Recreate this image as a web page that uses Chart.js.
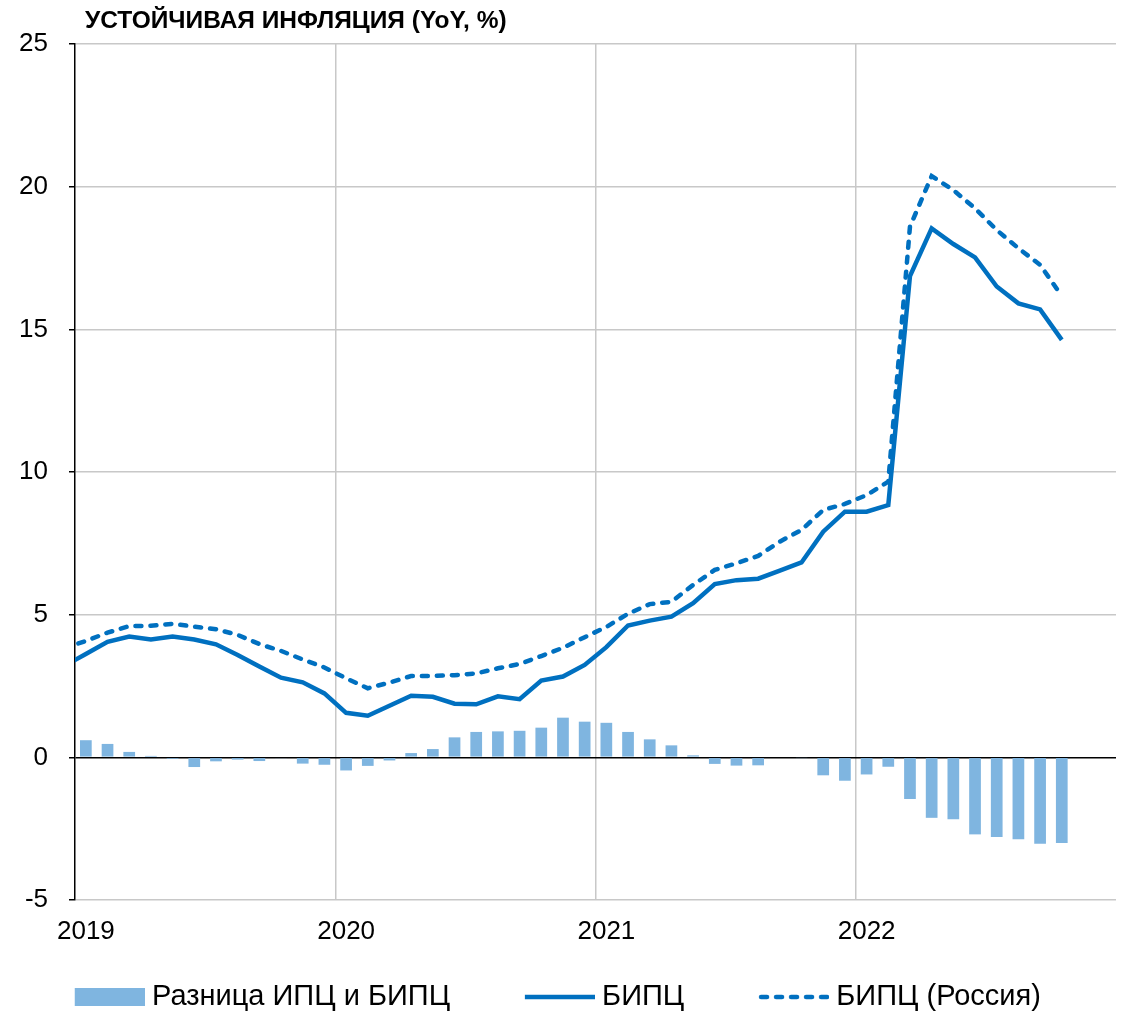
<!DOCTYPE html>
<html>
<head>
<meta charset="utf-8">
<title>Устойчивая инфляция</title>
<script src="https://cdn.jsdelivr.net/npm/chart.js@4.4.0/dist/chart.umd.min.js"></script>
<style>
  html, body { margin: 0; padding: 0; background: #fff; }
  #wrap { width: 1132px; height: 1012px; position: relative; }
</style>
</head>
<body>
<div id="wrap"><canvas id="inflationChart"></canvas></div>
<script>
// monthly points, Dec 2018 .. Oct 2022 (first point only sits left of the axis)
const months = [
  '2018-12',
  '2019-01','2019-02','2019-03','2019-04','2019-05','2019-06','2019-07','2019-08','2019-09','2019-10','2019-11','2019-12',
  '2020-01','2020-02','2020-03','2020-04','2020-05','2020-06','2020-07','2020-08','2020-09','2020-10','2020-11','2020-12',
  '2021-01','2021-02','2021-03','2021-04','2021-05','2021-06','2021-07','2021-08','2021-09','2021-10','2021-11','2021-12',
  '2022-01','2022-02','2022-03','2022-04','2022-05','2022-06','2022-07','2022-08','2022-09','2022-10'
];

const bipc = [
  3.20,
  3.62, 4.05, 4.23, 4.13, 4.23, 4.13, 3.96, 3.59, 3.18, 2.79, 2.63, 2.24,
  1.56, 1.46, 1.81, 2.16, 2.12, 1.88, 1.86, 2.14, 2.04, 2.69, 2.83, 3.24,
  3.86, 4.62, 4.79, 4.93, 5.40, 6.07, 6.21, 6.26, 6.54, 6.83, 7.91, 8.61,
  8.61, 8.84, 16.87, 18.54, 17.99, 17.52, 16.50, 15.91, 15.70, 14.63
];

const bipcRussia = [
  3.82,
  4.08, 4.37, 4.60, 4.61, 4.68, 4.58, 4.49, 4.29, 3.97, 3.73, 3.43, 3.15,
  2.77, 2.42, 2.62, 2.85, 2.85, 2.88, 2.94, 3.12, 3.27, 3.55, 3.84, 4.21,
  4.57, 5.03, 5.37, 5.45, 6.04, 6.57, 6.80, 7.06, 7.56, 7.97, 8.67, 8.88,
  9.19, 9.66, 18.60, 20.37, 19.88, 19.24, 18.48, 17.84, 17.26, 16.17
];

const cpiDiff = [
  null,
  0.60, 0.47, 0.19, 0.05, -0.05, -0.34, -0.14, -0.08, -0.13, -0.03, -0.22, -0.26,
  -0.46, -0.30, -0.11, 0.15, 0.29, 0.70, 0.89, 0.91, 0.93, 1.04, 1.39, 1.25,
  1.21, 0.89, 0.63, 0.42, 0.07, -0.23, -0.29, -0.28, 0.00, -0.02, -0.63, -0.82,
  -0.60, -0.33, -1.46, -2.12, -2.17, -2.70, -2.79, -2.87, -3.03, -3.00
];

const yearLabels = ['2019', '2020', '2021', '2022'];
const chartTitle = 'УСТОЙЧИВАЯ ИНФЛЯЦИЯ (YoY, %)';
const seriesNames = ['Разница ИПЦ и БИПЦ', 'БИПЦ', 'БИПЦ (Россия)'];

const barColor = '#7fb5e0';
const lineColor = '#0070c0';
const gridColor = '#c8c8c8';
const fontFamily = '"Liberation Sans", Arial, sans-serif';

// month index -> x value, centred inside its month (Jan 2019 = 0.5)
const toPoints = (arr) => arr.map((v, i) => ({ x: i - 0.5, y: v }));

// legend markers: 70px swatch sitting at the right end of a wider image
const LEG_BOX = 127.5;
function legendMarker(kind) {
  const c = document.createElement('canvas');
  c.width = LEG_BOX + 15;
  c.height = 18;
  const g = c.getContext('2d');
  const x0 = c.width - 70;
  if (kind === 'bar') {
    g.fillStyle = barColor;
    g.fillRect(x0, 0, 70, 18);
  } else {
    g.strokeStyle = lineColor;
    g.lineWidth = 4.5;
    g.beginPath();
    if (kind === 'dash') {
      g.setLineDash([6, 9]);
      g.lineCap = 'round';
      g.moveTo(x0 + 2, 9);
    } else {
      g.moveTo(x0, 9);
    }
    g.lineTo(x0 + 70, 9);
    g.stroke();
  }
  return c;
}
const markers = [legendMarker('bar'), legendMarker('line'), legendMarker('dash')];

const cornerTitle = {
  id: 'cornerTitle',
  afterDraw(chart) {
    const ctx = chart.ctx;
    ctx.save();
    ctx.font = 'bold 24.5px ' + fontFamily;
    ctx.fillStyle = '#000';
    ctx.textBaseline = 'middle';
    ctx.fillText(chartTitle, 85, 21);
    ctx.restore();
  }
};

const ctx = document.getElementById('inflationChart').getContext('2d');
const inflationChart = new Chart(ctx, {
  type: 'line',
  data: {
    datasets: [
      {
        type: 'bar',
        label: seriesNames[0],
        data: toPoints(cpiDiff),
        backgroundColor: barColor,
        borderWidth: 0,
        barPercentage: 0.675,
        categoryPercentage: 0.8
      },
      {
        label: seriesNames[1],
        data: toPoints(bipc),
        borderColor: lineColor,
        backgroundColor: lineColor,
        borderWidth: 4.5,
        pointRadius: 0,
        tension: 0,
        clip: 0
      },
      {
        label: seriesNames[2],
        data: toPoints(bipcRussia),
        borderColor: lineColor,
        backgroundColor: lineColor,
        borderWidth: 4.5,
        borderDash: [6, 9],
        borderCapStyle: 'round',
        pointRadius: 0,
        tension: 0,
        clip: 0
      }
    ]
  },
  options: {
    responsive: true,
    maintainAspectRatio: false,
    animation: false,
    layout: { padding: { top: 44, right: 12, bottom: -9.5, left: 0 } },
    scales: {
      x: {
        type: 'linear',
        min: 0,
        max: 48,
        offset: false,
        ticks: {
          stepSize: 12,
          autoSkip: false,
          maxRotation: 0,
          color: '#000',
          font: { family: fontFamily, size: 26 },
          padding: 16,
          labelOffset: 10.9,
          callback: (v) => yearLabels[v / 12] || ''
        },
        grid: {
          offset: false,
          color: (c) => (c.tick && (c.tick.value === 0 || c.tick.value === 48)) ? 'rgba(0,0,0,0)' : gridColor,
          lineWidth: 1.5,
          drawTicks: false
        },
        border: { display: false },
        afterFit(scale) { scale.height = 72.5; }
      },
      y: {
        min: -5,
        max: 25,
        ticks: {
          stepSize: 5,
          color: '#000',
          font: { family: fontFamily, size: 26 },
          padding: 21
        },
        grid: {
          color: (c) => (c.tick && c.tick.value === 0) ? '#000' : gridColor,
          lineWidth: 1.5,
          tickColor: '#000',
          tickLength: 6
        },
        border: { color: '#000', width: 1.5 },
        afterFit(scale) { scale.width = 75; }
      }
    },
    plugins: {
      title: { display: false },
      tooltip: { enabled: false },
      legend: {
        position: 'bottom',
        align: 'start',
        labels: {
          usePointStyle: true,
          pointStyleWidth: LEG_BOX,
          boxHeight: 18,
          padding: 10,
          color: '#000',
          font: { family: fontFamily, size: 29 },
          generateLabels(chart) {
            return chart.data.datasets.map((ds, i) => ({
              text: ds.label,
              fillStyle: ds.backgroundColor,
              strokeStyle: ds.borderColor,
              lineWidth: 0,
              pointStyle: markers[i],
              hidden: false,
              datasetIndex: i
            }));
          }
        }
      }
    }
  },
  plugins: [cornerTitle]
});
</script>
</body>
</html>
